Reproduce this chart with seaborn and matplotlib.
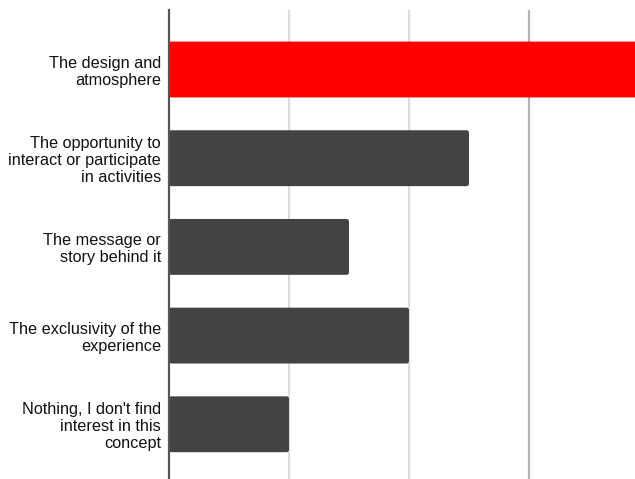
import matplotlib
matplotlib.use("Agg")
import matplotlib.pyplot as plt
from matplotlib.patches import FancyBboxPatch
import seaborn as sns
import pandas as pd

categories = [
    "The design and\natmosphere",
    "The opportunity to\ninteract or participate\nin activities",
    "The message or\nstory behind it",
    "The exclusivity of the\nexperience",
    "Nothing, I don't find\ninterest in this\nconcept",
]
values = [4.0, 2.5, 1.5, 2.0, 1.0]
bar_colors = ["#ff0000", "#434343", "#434343", "#434343", "#434343"]

df = pd.DataFrame({"reason": categories, "value": values})

sns.set_theme(style="white")
plt.rcParams["font.family"] = ["Liberation Sans", "DejaVu Sans"]

fig = plt.figure(figsize=(6.35, 4.79), dpi=100)
ax = fig.add_axes([169 / 635, 0.0, 1 - 169 / 635, 1 - 10 / 479])

sns.barplot(data=df, x="value", y="reason", hue="reason", palette=bar_colors,
            legend=False, width=0.63, ax=ax, orient="h", saturation=1)

ax.set_xlim(0, 466 / 120)
ax.set_ylim(4.617, -0.671)

# swap the plain rectangles for ones with softly rounded corners
px_x = 120.0   # pixels per x unit
px_y = 88.7    # pixels per category
for bar in list(ax.patches):
    x0, y0 = bar.get_x(), bar.get_y()
    w, h = bar.get_width(), bar.get_height()
    rounded = FancyBboxPatch(
        (x0, y0), w, h,
        boxstyle="round,pad=0,rounding_size=%f" % (2.5 / px_x),
        mutation_aspect=px_x / px_y,
        facecolor=bar.get_facecolor(), edgecolor="none", zorder=2,
    )
    bar.remove()
    ax.add_patch(rounded)

for xv, col in [(1, "#dcdcdc"), (2, "#dcdcdc"), (3, "#b4b4b4")]:
    ax.axvline(xv, color=col, lw=1.6, zorder=0)

for s in ["top", "right", "bottom"]:
    ax.spines[s].set_visible(False)
ax.spines["left"].set_color("#555555")
ax.spines["left"].set_linewidth(1.6)
ax.spines["left"].set_zorder(3)

ax.set_xticks([])
ax.set_xlabel("")
ax.set_ylabel("")
ax.tick_params(axis="y", length=0, pad=5.8)
for lbl in ax.get_yticklabels():
    lbl.set_fontsize(11.7)
    lbl.set_color("#111111")
    lbl.set_linespacing(1.13)
    lbl.set_horizontalalignment("right")
    lbl.set_multialignment("right")

fig.savefig("out.png", dpi=100)
